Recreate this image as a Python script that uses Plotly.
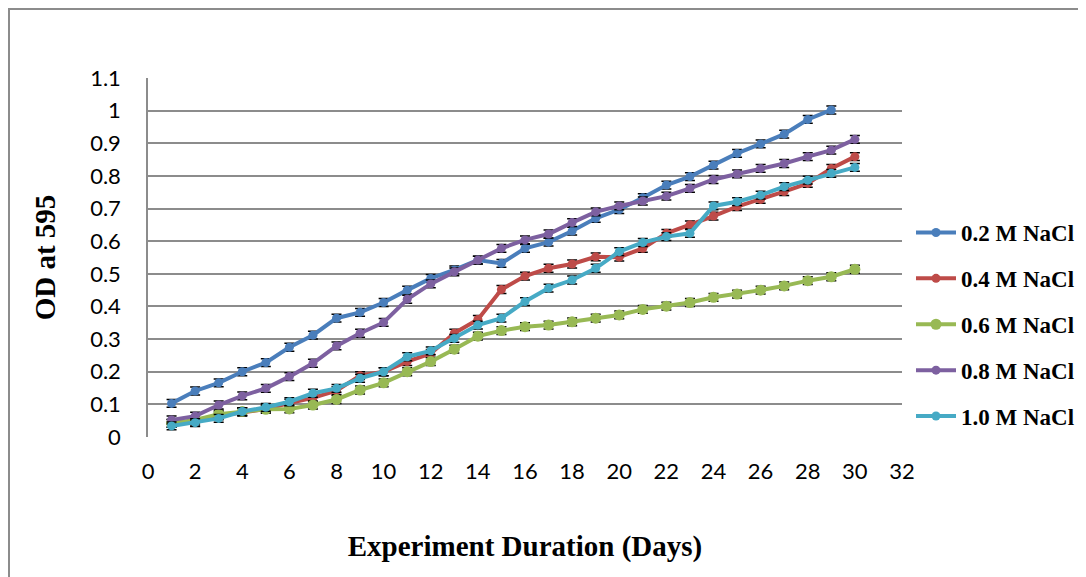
import plotly.graph_objects as go

days = list(range(1, 31))

od_02 = [0.103, 0.141, 0.166, 0.200, 0.228, 0.275, 0.312, 0.364, 0.382, 0.412,
         0.450, 0.486, 0.512, 0.542, 0.532, 0.578, 0.597, 0.631, 0.670, 0.697,
         0.733, 0.772, 0.798, 0.833, 0.869, 0.898, 0.928, 0.973, 1.002]
od_04 = [0.042, 0.046, 0.065, 0.076, 0.086, 0.104, 0.120, 0.142, 0.188, 0.200,
         0.231, 0.256, 0.318, 0.360, 0.452, 0.493, 0.517, 0.530, 0.552, 0.551,
         0.578, 0.624, 0.650, 0.677, 0.706, 0.728, 0.752, 0.777, 0.823, 0.859]
od_06 = [0.042, 0.052, 0.070, 0.078, 0.085, 0.086, 0.098, 0.115, 0.144, 0.166,
         0.200, 0.231, 0.269, 0.309, 0.326, 0.338, 0.343, 0.353, 0.364, 0.374,
         0.391, 0.401, 0.412, 0.428, 0.438, 0.450, 0.463, 0.479, 0.491, 0.514]
od_08 = [0.052, 0.064, 0.098, 0.126, 0.149, 0.185, 0.226, 0.279, 0.318, 0.351,
         0.422, 0.469, 0.506, 0.542, 0.578, 0.604, 0.622, 0.657, 0.690, 0.708,
         0.723, 0.738, 0.762, 0.789, 0.806, 0.823, 0.838, 0.859, 0.879, 0.912]
od_10 = [0.034, 0.044, 0.057, 0.078, 0.091, 0.108, 0.134, 0.149, 0.180, 0.200,
         0.246, 0.264, 0.302, 0.343, 0.364, 0.415, 0.456, 0.481, 0.517, 0.568,
         0.596, 0.614, 0.624, 0.708, 0.721, 0.741, 0.767, 0.787, 0.808, 0.826]

err = 0.012
names = ["0.2 M NaCl", "0.4 M NaCl", "0.6 M NaCl", "0.8 M NaCl", "1.0 M NaCl"]
colors = ["#4A7EBB", "#BE4B48", "#98B954", "#7D60A0", "#46AAC5"]
series = [od_02, od_04, od_06, od_08, od_10]
msizes = [9, 9, 11, 9, 9]

y_ticks = [0, 0.1, 0.2, 0.3, 0.4, 0.5, 0.6, 0.7, 0.8, 0.9, 1.0, 1.1]
y_ticktext = ["0", "0.1", "0.2", "0.3", "0.4", "0.5", "0.6", "0.7", "0.8", "0.9", "1", "1.1"]

# page body has an 8px margin, so the figure origin sits at (8, 8);
# the figure is a little wider than the window so the legend text is not clipped
L, T, R, B = 140, 70, 894, 429
W, H = 1120, 577

fig = go.Figure()
for name, col, vals, ms in zip(names, colors, series, msizes):
    fig.add_trace(go.Scatter(
        x=days[:len(vals)], y=vals, name=name, mode="lines+markers",
        line=dict(color=col, width=4),
        marker=dict(color=col, size=ms),
        error_y=dict(type="constant", value=err, color="black", thickness=1.5, width=5),
        legendgroup=name,
    ))

fig.update_layout(
    width=W, height=H,
    margin=dict(l=L, r=W - R, t=T, b=H - B, autoexpand=False),
    paper_bgcolor="white", plot_bgcolor="white",
    showlegend=True,
    legend=dict(
        xref="container", yref="container",
        x=903 / W, y=1 - 316.5 / H, xanchor="left", yanchor="middle",
        font=dict(family="Liberation Serif", size=23, color="black", weight="bold"),
        tracegroupgap=13, itemwidth=40,
        bgcolor="rgba(0,0,0,0)",
    ),
    xaxis=dict(
        range=[0, 32], tickmode="linear", tick0=0, dtick=2,
        showgrid=False, zeroline=False, showline=False, ticks="",
        tickfont=dict(family="Lato", size=22, color="black"),
        ticklabelstandoff=19, automargin=False,
        title=dict(text="Experiment Duration (Days)",
                   font=dict(family="Liberation Serif", size=29, color="black", weight="bold"),
                   standoff=52),
    ),
    yaxis=dict(
        range=[0, 1.1], tickvals=y_ticks, ticktext=y_ticktext,
        showgrid=True, gridcolor="#8C8C8C", gridwidth=1.5,
        zeroline=False, showline=True, linecolor="#8C8C8C", linewidth=1.5,
        ticks="", tickfont=dict(family="Lato", size=22, color="black"),
        ticklabelstandoff=21, automargin=False,
        title=dict(text="OD at 595",
                   font=dict(family="Liberation Serif", size=29, color="black", weight="bold"),
                   standoff=26),
    ),
    shapes=[dict(type="rect", xref="paper", yref="paper",
                 x0=(1 - L) / (R - L), x1=(1110 - L) / (R - L),
                 y0=(B - 600) / (B - T), y1=(B - 1) / (B - T),
                 line=dict(color="#8C8C8C", width=2), fillcolor="rgba(0,0,0,0)",
                 layer="below")],
)

fig.write_html("out.html")
